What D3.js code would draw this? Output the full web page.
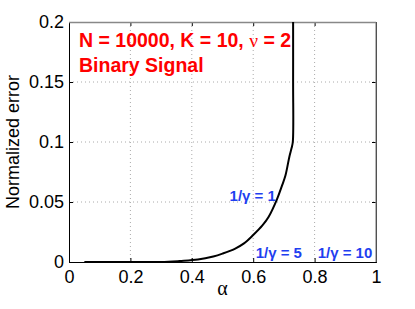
<!DOCTYPE html>
<html>
<head>
<meta charset="utf-8">
<script src="https://cdn.jsdelivr.net/npm/d3@7"></script>
<style>
  body { margin: 0; background: #fff; }
  svg { display: block; font-family: "Liberation Sans", Arial, sans-serif; }
</style>
</head>
<body>
<div id="chart"></div>
<script>
// Data
const alphaVals = [0.05, 0.1, 0.2, 0.3, 0.36, 0.42, 0.47, 0.5, 0.54, 0.57, 0.6, 0.63, 0.65, 0.677, 0.693, 0.705, 0.718, 0.725, 0.729, 0.73, 0.73];
const errVals   = [0, 0, 0, 0, 0.0008, 0.002, 0.0046, 0.007, 0.011, 0.0155, 0.0225, 0.0305, 0.0375, 0.052, 0.063, 0.072, 0.088, 0.095, 0.1, 0.15, 0.2];
const xTicks = [0, 0.2, 0.4, 0.6, 0.8, 1];
const yTicks = [0, 0.05, 0.1, 0.15, 0.2];
const curveLabels = [
  { text: "1/γ = 1", a: 0.523, e: 0.051 },
  { text: "1/γ = 5", a: 0.608, e: 0.0035 },
  { text: "1/γ = 10", a: 0.81, e: 0.0035 }
];

const W = 415, H = 309;
const margin = { top: 22, right: 39, bottom: 47, left: 69 };
const width = W - margin.left - margin.right,
      height = H - margin.top - margin.bottom;

const svg = d3.select("#chart").append("svg")
  .attr("width", W).attr("height", H);

const g = svg.append("g")
  .attr("transform", `translate(${margin.left}, ${margin.top})`);

const x = d3.scaleLinear().domain([0, 1]).range([0, width]);
const y = d3.scaleLinear().domain([0, 0.2]).range([height, 0]);

// grid
g.append("g").selectAll("line")
  .data(xTicks.slice(1, -1))
  .join("line")
  .attr("x1", d => x(d)).attr("x2", d => x(d))
  .attr("y1", 0).attr("y2", height)
  .attr("stroke", "#aaa").attr("stroke-dasharray", "1,3");
g.append("g").selectAll("line")
  .data(yTicks.slice(1, -1))
  .join("line")
  .attr("x1", 0).attr("x2", width)
  .attr("y1", d => y(d)).attr("y2", d => y(d))
  .attr("stroke", "#aaa").attr("stroke-dasharray", "1,3");

// axes (ticks inside, MATLAB style)
const xAxis = g.append("g")
  .attr("transform", `translate(0, ${height})`)
  .call(d3.axisBottom(x).tickValues(xTicks).tickSize(-4).tickPadding(8).tickFormat(d3.format("")));
const yAxis = g.append("g")
  .call(d3.axisLeft(y).tickValues(yTicks).tickSize(-4).tickPadding(5).tickFormat(d3.format("")));
g.append("g")
  .call(d3.axisTop(x).tickValues(xTicks).tickSize(-4).tickFormat(""));
g.append("g")
  .attr("transform", `translate(${width}, 0)`)
  .call(d3.axisRight(y).tickValues(yTicks).tickSize(-4).tickFormat(""));

svg.selectAll(".domain").attr("stroke", "#000");
svg.selectAll(".tick line").attr("stroke", "#000");
[xAxis, yAxis].forEach(a => a.selectAll("text")
  .attr("font-size", 18).attr("fill", "#000")
  .attr("font-family", "'Liberation Sans', Arial, sans-serif"));

// box top/right in grey like the picture
g.append("line").attr("x1", 0).attr("x2", width).attr("y1", 0.5).attr("y2", 0.5)
  .attr("stroke", "#888").attr("stroke-width", 1.5);
g.append("line").attr("x1", width).attr("x2", width).attr("y1", 0).attr("y2", height)
  .attr("stroke", "#888").attr("stroke-width", 1.2);

// curve
const pts = alphaVals.map((a, i) => ({ a: a, e: errVals[i] }));
g.append("path")
  .datum(pts)
  .attr("fill", "none")
  .attr("stroke", "#000")
  .attr("stroke-width", 2)
  .attr("d", d3.line().curve(d3.curveCatmullRom.alpha(0.5)).x(d => x(d.a)).y(d => y(d.e)));

// curve labels
g.append("g").selectAll("text")
  .data(curveLabels)
  .join("text")
  .attr("x", d => x(d.a)).attr("y", d => y(d.e))
  .attr("fill", "#1f3ff0")
  .attr("font-size", 15)
  .attr("font-weight", "bold")
  .text(d => d.text);

// title text in red
const t = g.append("text")
  .attr("x", 10).attr("y", 25)
  .attr("fill", "#f00").attr("font-size", 19.5).attr("font-weight", "bold");
t.append("tspan").text("N = 10000, K = 10, ");
t.append("tspan").attr("font-family", "'Liberation Serif', serif").attr("font-weight", "normal").text("ν");
t.append("tspan").text(" = 2");
g.append("text")
  .attr("x", 10).attr("y", 50)
  .attr("fill", "#f00").attr("font-size", 19.5).attr("font-weight", "bold")
  .text("Binary Signal");

// axis titles
svg.append("text")
  .attr("x", margin.left + x(0.5)).attr("y", 295)
  .attr("text-anchor", "middle")
  .attr("font-family", "'Liberation Serif', serif")
  .attr("font-size", 20)
  .text("α");
svg.append("text")
  .attr("transform", `translate(19, ${margin.top + height / 2}) rotate(-90)`)
  .attr("text-anchor", "middle")
  .attr("font-size", 18)
  .text("Normalized error");
</script>
</body>
</html>
